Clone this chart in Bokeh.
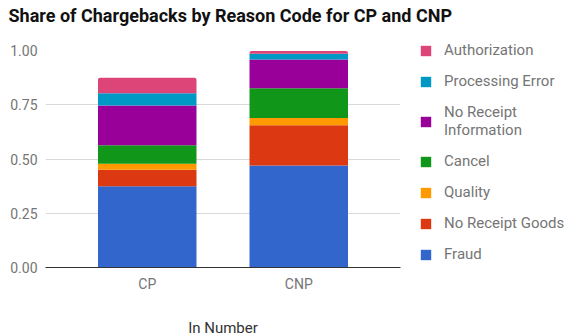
from bokeh.plotting import figure
from bokeh.models import (FactorRange, FixedTicker, NumeralTickFormatter,
                          Legend, LegendItem, Range1d, Title)
from bokeh.embed import file_html
from bokeh.resources import INLINE

# Chargeback share per channel, stacked bottom-to-top by reason code
categories = ["CP", "CNP"]
reasons = ["Fraud", "No Receipt Goods", "Quality", "Cancel",
           "No Receipt Information", "Processing Error", "Authorization"]
legend_labels = ["Fraud", "No Receipt Goods", "Quality", "Cancel",
                 "No Receipt\nInformation", "Processing Error", "Authorization"]

fraud = [0.375, 0.47]
no_receipt_goods = [0.075, 0.185]
quality = [0.028, 0.034]
cancel = [0.085, 0.137]
no_receipt_information = [0.184, 0.132]
processing_error = [0.056, 0.027]
authorization = [0.072, 0.013]

y_ticks = [0.0, 0.25, 0.5, 0.75, 1.0]

colors = ["#3366cc", "#dc3912", "#ff9900", "#109618",
          "#990099", "#0099c6", "#dd4477"]

data = {
    "category": categories,
    "Fraud": fraud,
    "No Receipt Goods": no_receipt_goods,
    "Quality": quality,
    "Cancel": cancel,
    "No Receipt Information": no_receipt_information,
    "Processing Error": processing_error,
    "Authorization": authorization,
}

FONT = "Roboto"
LABEL_GRAY = "#757575"

p = figure(
    x_range=FactorRange(*categories, range_padding=0.1715),
    y_range=Range1d(0, 1.0),
    frame_width=355, frame_height=217,
    min_border_left=45, min_border_right=165,
    min_border_top=50, min_border_bottom=68,
    toolbar_location=None, output_backend="svg",
    title="Share of Chargebacks by Reason Code for CP and CNP",
)

renderers = p.vbar_stack(reasons, x="category", width=0.65, source=data,
                         color=colors, line_color=None)
# slightly rounded top of each stack
renderers[-1].glyph.border_radius = (2, 2, 0, 0)

# Title, held away from the plot area by an empty spacer row
p.title.text_font = FONT
p.title.text_font_size = "18px"
p.title.text_font_style = "bold"
p.title.text_color = "#111111"
p.title.offset = -37
p.title.vertical_align = "bottom"
p.title.standoff = 0
p.add_layout(Title(text=" ", text_font_size="21px", standoff=0), "above")

# Axes
p.yaxis.ticker = FixedTicker(ticks=y_ticks)
p.yaxis.formatter = NumeralTickFormatter(format="0.00")
p.yaxis.axis_line_color = None
p.yaxis.major_tick_line_color = None
p.yaxis.minor_tick_line_color = None
p.yaxis.major_tick_out = 0
p.yaxis.major_tick_in = 0
p.yaxis.major_label_standoff = 8
p.yaxis.major_label_text_font = FONT
p.yaxis.major_label_text_font_size = "14px"
p.yaxis.major_label_text_color = LABEL_GRAY

p.xaxis.axis_line_color = "#333333"
p.xaxis.major_tick_line_color = None
p.xaxis.minor_tick_line_color = None
p.xaxis.major_tick_out = 0
p.xaxis.major_tick_in = 0
p.xaxis.major_label_standoff = 8
p.xaxis.major_label_text_font = FONT
p.xaxis.major_label_text_font_size = "14px"
p.xaxis.major_label_text_color = LABEL_GRAY
p.xaxis.axis_label = "In Number"
p.xaxis.axis_label_standoff = 24
p.xaxis.axis_label_text_font = FONT
p.xaxis.axis_label_text_font_size = "15px"
p.xaxis.axis_label_text_font_style = "normal"
p.xaxis.axis_label_text_color = "#333333"

p.xgrid.grid_line_color = None
p.ygrid.grid_line_color = "#d9d9d9"

p.outline_line_color = None
p.background_fill_color = "white"
p.border_fill_color = "white"

# Legend, top entry = top of the stack
items = [LegendItem(label=lbl, renderers=[r])
         for lbl, r in zip(legend_labels, renderers)][::-1]
legend = Legend(
    items=items, location=(19, 4), orientation="vertical",
    padding=0, margin=0, spacing=13,
    glyph_width=13, glyph_height=13, label_height=18, label_standoff=12,
    label_text_font=FONT, label_text_font_size="15px",
    label_text_color=LABEL_GRAY,
    border_line_color=None, background_fill_alpha=0,
)
p.add_layout(legend, "right")

open("out.html", "w").write(file_html(p, INLINE))
